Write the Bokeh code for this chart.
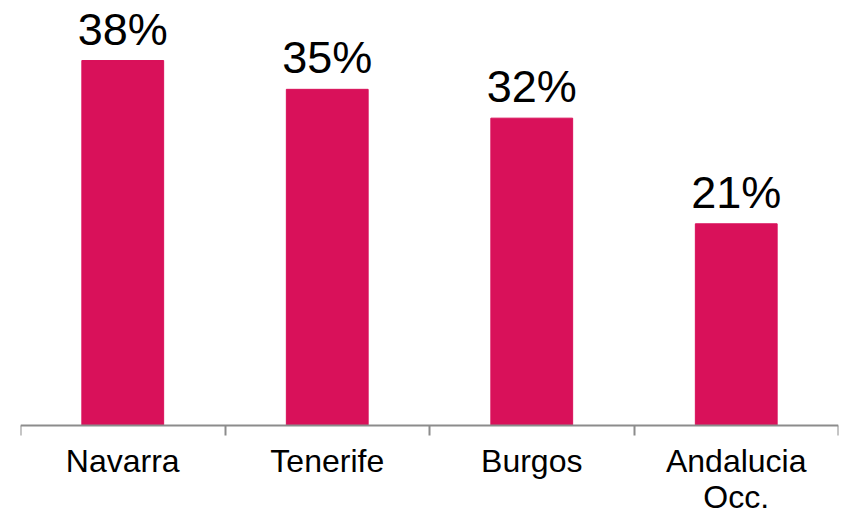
from bokeh.plotting import figure
from bokeh.models import ColumnDataSource, FixedTicker, Range1d, LabelSet
from bokeh.core.properties import value
from bokeh.embed import file_html
from bokeh.resources import INLINE

categories = ["Navarra", "Tenerife", "Burgos", "Andalucia\nOcc."]
values = [38, 35, 32, 21]
value_labels = ["38%", "35%", "32%", "21%"]

BAR_COLOR = "#D9115A"
FONT = "Liberation Sans"

xs = [i + 0.5 for i in range(len(categories))]
src = ColumnDataSource(dict(x=xs, top=values, lab=value_labels))

p = figure(width=842, height=514, output_backend="svg", toolbar_location=None,
           x_range=Range1d(0, len(categories)), y_range=Range1d(-9.266, 44.25),
           min_border_left=20, min_border_right=4, min_border_top=0, min_border_bottom=0)
p.outline_line_color = None
p.background_fill_color = "white"
p.border_fill_color = "white"
p.grid.visible = False
p.yaxis.visible = False

p.vbar(x="x", top="top", bottom=0, width=0.4, color=BAR_COLOR, source=src)

vals = LabelSet(x="x", y="top", text="lab", source=src, text_align="center",
                text_baseline="alphabetic", y_offset=16, text_font=value(FONT),
                text_font_size="45px", text_color="black")
p.add_layout(vals)

ax = p.xaxis[0]
ax.fixed_location = 0
ax.ticker = FixedTicker(ticks=xs, minor_ticks=list(range(len(categories) + 1)))
ax.major_label_overrides = {x: c for x, c in zip(xs, categories)}
ax.major_tick_out = 0
ax.major_tick_in = 0
ax.minor_tick_out = 10
ax.minor_tick_in = 0
ax.minor_tick_line_color = "#8c8c8c"
ax.minor_tick_line_width = 2
ax.axis_line_color = "#8c8c8c"
ax.axis_line_width = 2
ax.major_label_standoff = 7
ax.major_label_text_font = FONT
ax.major_label_text_font_size = "32px"
ax.major_label_text_color = "black"
ax.major_label_text_line_height = 1.0

open("out.html", "w").write(file_html(p, INLINE))
